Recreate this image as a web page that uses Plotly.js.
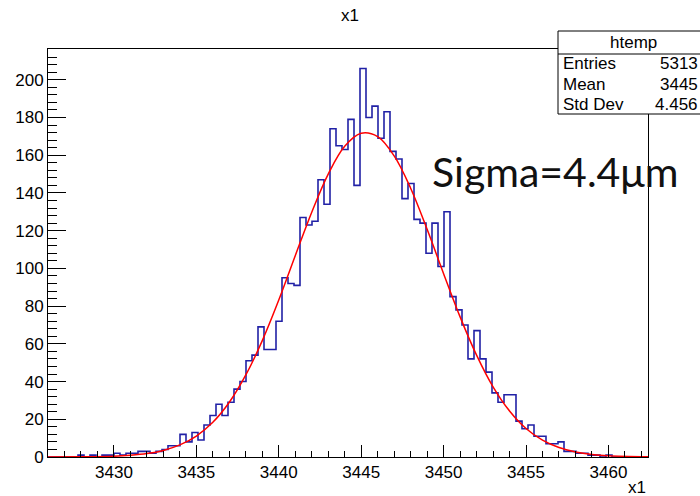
<!DOCTYPE html>
<html>
<head>
<meta charset="utf-8">
<script src="https://cdn.plot.ly/plotly-3.0.1.min.js"></script>
<style>html,body{margin:0;padding:0;background:#fff;}#chart{width:700px;height:496px;}</style>
</head>
<body>
<div id="chart"></div>
<script>
// ---- data ----
const binStart = 3426;
const binWidth = 0.364;
const counts = [
  0, 0, 0, 0, 0, 1, 0, 1, 0, 1,
  1, 2, 1, 2, 2, 3, 3, 2, 3, 4,
  6, 6, 12, 8, 13, 9, 17, 22, 28, 22,
  29, 36, 40, 51, 54, 69, 57, 57, 72, 95,
  92, 91, 127, 123, 125, 147, 134, 174, 165, 163,
  179, 144, 206, 180, 186, 169, 183, 162, 158, 137,
  145, 126, 124, 108, 124, 101, 130, 85, 78, 70,
  52, 67, 52, 45, 34, 29, 33, 33, 19, 15,
  17, 11, 11, 7, 7, 8, 3, 3, 2, 2,
  1, 1, 0, 1, 0, 0, 0, 0, 0, 0
];
// red fit curve
const fitX = [3426, 3428, 3430, 3431, 3432, 3433, 3434, 3435, 3436, 3437, 3438, 3439, 3440,
              3441, 3442, 3443, 3444, 3445, 3446, 3447, 3448, 3449, 3450, 3451, 3452, 3453,
              3454, 3455, 3456, 3457, 3458, 3459, 3460, 3462.4];
const fitY = [0.0, 0.1, 0.4, 0.9, 1.8, 3.5, 6.4, 11.1, 18.4, 29, 43.5, 61.7, 83.2,
              106.7, 129.8, 150, 164.7, 171.6, 169.8, 159.6, 142.5, 120.7, 97.2, 74.3, 54, 37.2,
              24.4, 15.1, 8.9, 5.0, 2.7, 1.35, 0.65, 0.1];
const xTitle = 'x1';
const chartTitle = 'x1';
const statsName = 'htemp';
const statsLabels = ['Entries', 'Mean', 'Std Dev'];
const statsValues = ['5313', '3445', '4.456'];
const noteText = 'Sigma=4.4\u03bcm';

// ---- build traces ----
const edges = [], stepY = [];
for (let i = 0; i <= counts.length; i++) {
  edges.push(binStart + i * binWidth);
  stepY.push(i < counts.length ? counts[i] : counts[counts.length - 1]);
}
const xmin = binStart, xmax = binStart + counts.length * binWidth;
const ymax = 1.05 * Math.max(...counts);

const W = 700, H = 496;
const M = {l: 48, r: 52, t: 49, b: 39};
const pw = W - M.l - M.r, ph = H - M.t - M.b;
const px = x => (x - M.l) / pw;      // pixel -> paper x
const py = y => (H - M.b - y) / ph;  // pixel -> paper y

const rootFont = 'Liberation Sans, Arial, Helvetica, sans-serif';

const traces = [
  {x: edges, y: stepY, type: 'scatter', mode: 'lines',
   line: {shape: 'hv', color: '#2121a6', width: 1.6}, hoverinfo: 'skip'},
  {x: fitX, y: fitY, type: 'scatter', mode: 'lines',
   line: {shape: 'spline', smoothing: 1, color: '#ff0000', width: 1.5}, hoverinfo: 'skip'}
];

const annotations = [
  {text: xTitle, xref: 'paper', yref: 'paper', x: 1, y: py(487), xanchor: 'right', yanchor: 'middle',
   showarrow: false, font: {family: rootFont, size: 17, color: '#000'}},
  {text: statsName, xref: 'paper', yref: 'paper', x: px(633), y: py(42.5), xanchor: 'center', yanchor: 'middle',
   showarrow: false, font: {family: rootFont, size: 17, color: '#000'}},
  {text: noteText, xref: 'paper', yref: 'paper', x: px(430), y: py(171), xanchor: 'left', yanchor: 'middle',
   showarrow: false, font: {family: 'Lato, Open Sans, sans-serif', size: 41, color: '#111'}}
];
const rowY = [63.5, 84.5, 105];
statsLabels.forEach((lab, i) => {
  annotations.push({text: lab, xref: 'paper', yref: 'paper', x: px(561), y: py(rowY[i]), xanchor: 'left', yanchor: 'middle',
    showarrow: false, font: {family: rootFont, size: 17, color: '#000'}});
  annotations.push({text: statsValues[i], xref: 'paper', yref: 'paper', x: px(700), y: py(rowY[i]), xanchor: 'right', yanchor: 'middle',
    showarrow: false, font: {family: rootFont, size: 17, color: '#000'}});
});

const shapes = [
  {type: 'rect', xref: 'paper', yref: 'paper', x0: px(558), x1: px(710), y0: py(114), y1: py(31),
   line: {color: '#000', width: 1}, fillcolor: '#fff', layer: 'above'},
  {type: 'line', xref: 'paper', yref: 'paper', x0: px(558), x1: px(710), y0: py(54), y1: py(54),
   line: {color: '#000', width: 1}, layer: 'above'}
];

const axisCommon = {
  showgrid: false, zeroline: false, showline: true, mirror: true,
  linecolor: '#000', linewidth: 1, ticks: 'inside', tickcolor: '#000', tickwidth: 1,
  tickfont: {family: rootFont, size: 17, color: '#000'}, fixedrange: true
};

const layout = {
  width: W, height: H, margin: M,
  paper_bgcolor: '#fff', plot_bgcolor: '#fff', showlegend: false,
  title: {text: chartTitle, x: 0.5, xanchor: 'center', xref: 'container', y: 1 - 15 / H, yanchor: 'middle', yref: 'container',
          font: {family: rootFont, size: 17, color: '#000'}},
  xaxis: Object.assign({}, axisCommon, {
    range: [xmin, xmax], tickmode: 'linear', tick0: 3430, dtick: 5, ticklen: 12,
    minor: {dtick: 1, tick0: 3430, ticks: 'inside', ticklen: 6, tickcolor: '#000', tickwidth: 1, showgrid: false}
  }),
  yaxis: Object.assign({}, axisCommon, {
    range: [0, ymax], tickmode: 'linear', tick0: 0, dtick: 20, ticklen: 18,
    minor: {dtick: 4, tick0: 0, ticks: 'inside', ticklen: 9, tickcolor: '#000', tickwidth: 1, showgrid: false}
  }),
  annotations: annotations,
  shapes: shapes
};

Plotly.newPlot('chart', traces, layout, {staticPlot: true, displayModeBar: false});
</script>
</body>
</html>
